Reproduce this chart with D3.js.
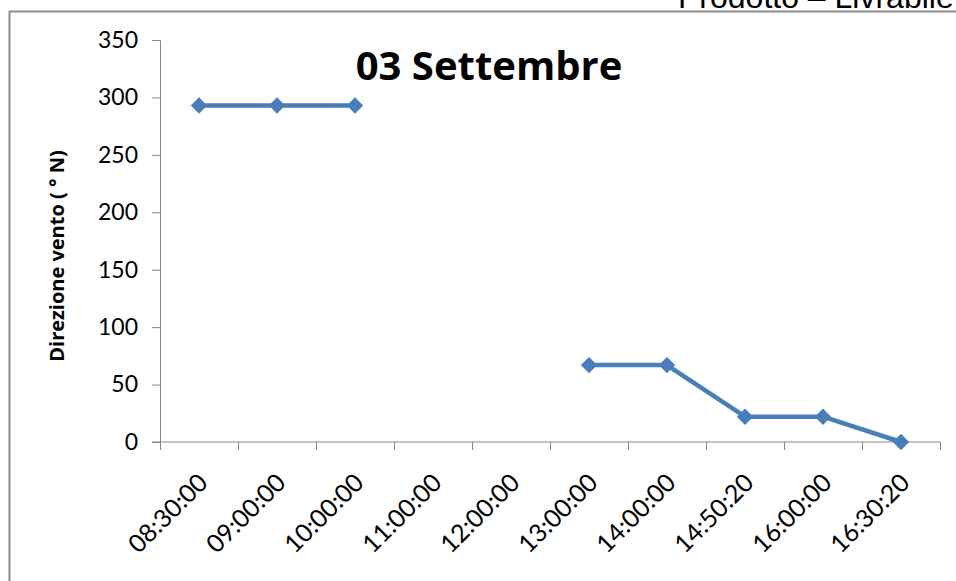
<!DOCTYPE html>
<html>
<head>
<meta charset="utf-8">
<style>
  body { margin: 0; background: #fff; }
  svg { display: block; font-family: "Open Sans", Lato, sans-serif; }
</style>
</head>
<body>
<svg width="956" height="581"></svg>
<script src="https://d3js.org/d3.v7.min.js"></script>
<script>

var times = ["08:30:00", "09:00:00", "10:00:00", "11:00:00", "12:00:00",
             "13:00:00", "14:00:00", "14:50:20", "16:00:00", "16:30:20"];
var direzione = [293, 293, 293, null, null, 67, 67, 22, 22, 0];
var yTicks = [0, 50, 100, 150, 200, 250, 300, 350];

var svg = d3.select("svg"),
    width = +svg.attr("width"),
    height = +svg.attr("height");

var blue = "#4a7ebb",
    axisGrey = "#868686",
    tickFont = "Lato, 'Open Sans', sans-serif";

// page header, cut off at the top like in the scan
svg.append("text")
    .attr("x", 678)
    .attr("y", 8)
    .attr("font-family", "'Liberation Sans', Arial, sans-serif")
    .attr("font-size", 32)
    .attr("fill", "#000")
    .text("Prodotto – Livrabile");

// frame of the chart area
svg.append("path")
    .attr("d", "M9.5," + height + "V11.5H" + width)
    .attr("fill", "none")
    .attr("stroke", "#8c8c8c")
    .attr("stroke-width", 2);

var x = d3.scaleBand()
    .domain(times)
    .range([160, 940])
    .padding(0);

var y = d3.scaleLinear()
    .domain([0, 350])
    .range([442, 40]);

// y axis
var yAxis = svg.append("g")
    .attr("transform", "translate(160,0)")
    .call(d3.axisLeft(y).tickValues(yTicks).tickSize(8).tickPadding(14));

yAxis.select(".domain").attr("stroke", axisGrey);
yAxis.selectAll(".tick line").attr("stroke", axisGrey);
yAxis.selectAll(".tick text")
    .attr("font-size", 23)
    .attr("fill", "#000")
    .attr("font-family", tickFont);

// x axis, ticks between categories
var xg = svg.append("g").attr("transform", "translate(0," + y(0) + ")");

xg.append("line")
    .attr("x1", 152).attr("x2", 940)
    .attr("stroke", axisGrey);

var bounds = times.map(function(d) { return x(d); }).concat([x.range()[1]]);
xg.selectAll(".xt")
  .data(bounds)
  .enter().append("line")
    .attr("class", "xt")
    .attr("x1", function(d) { return d + 0.5; })
    .attr("x2", function(d) { return d + 0.5; })
    .attr("y1", 0).attr("y2", 8)
    .attr("stroke", axisGrey);

xg.selectAll(".xl")
  .data(times)
  .enter().append("text")
    .attr("class", "xl")
    .attr("transform", function(d) {
      return "translate(" + (x(d) + x.bandwidth() / 2 + 4) + ",36) rotate(-45)";
    })
    .attr("text-anchor", "end")
    .attr("dy", "0.35em")
    .attr("font-size", 25)
    .attr("font-family", tickFont)
    .attr("fill", "#000")
    .text(function(d) { return d; });

// y axis title
svg.append("text")
    .attr("transform", "translate(64,256) rotate(-90)")
    .attr("text-anchor", "middle")
    .attr("font-size", 20)
    .attr("font-weight", "bold")
    .attr("fill", "#000")
    .text("Direzione vento  ( ° N)");

// chart title
svg.append("text")
    .attr("x", 489)
    .attr("y", 80)
    .attr("text-anchor", "middle")
    .attr("font-size", 40)
    .attr("font-weight", "bold")
    .attr("fill", "#000")
    .text("03 Settembre");

// series
var points = times.map(function(t, i) { return { t: t, v: direzione[i] }; });

var line = d3.line()
    .defined(function(d) { return d.v != null; })
    .x(function(d) { return x(d.t) + x.bandwidth() / 2; })
    .y(function(d) { return y(d.v); });

svg.append("path")
    .datum(points)
    .attr("d", line)
    .attr("fill", "none")
    .attr("stroke", blue)
    .attr("stroke-width", 4.5)
    .attr("stroke-linejoin", "round");

svg.selectAll(".marker")
  .data(points.filter(function(d) { return d.v != null; }))
  .enter().append("path")
    .attr("class", "marker")
    .attr("d", d3.symbol(d3.symbolDiamond2, 170))
    .attr("transform", function(d) {
      return "translate(" + (x(d.t) + x.bandwidth() / 2) + "," + y(d.v) + ")";
    })
    .attr("fill", blue);

</script>
</body>
</html>
